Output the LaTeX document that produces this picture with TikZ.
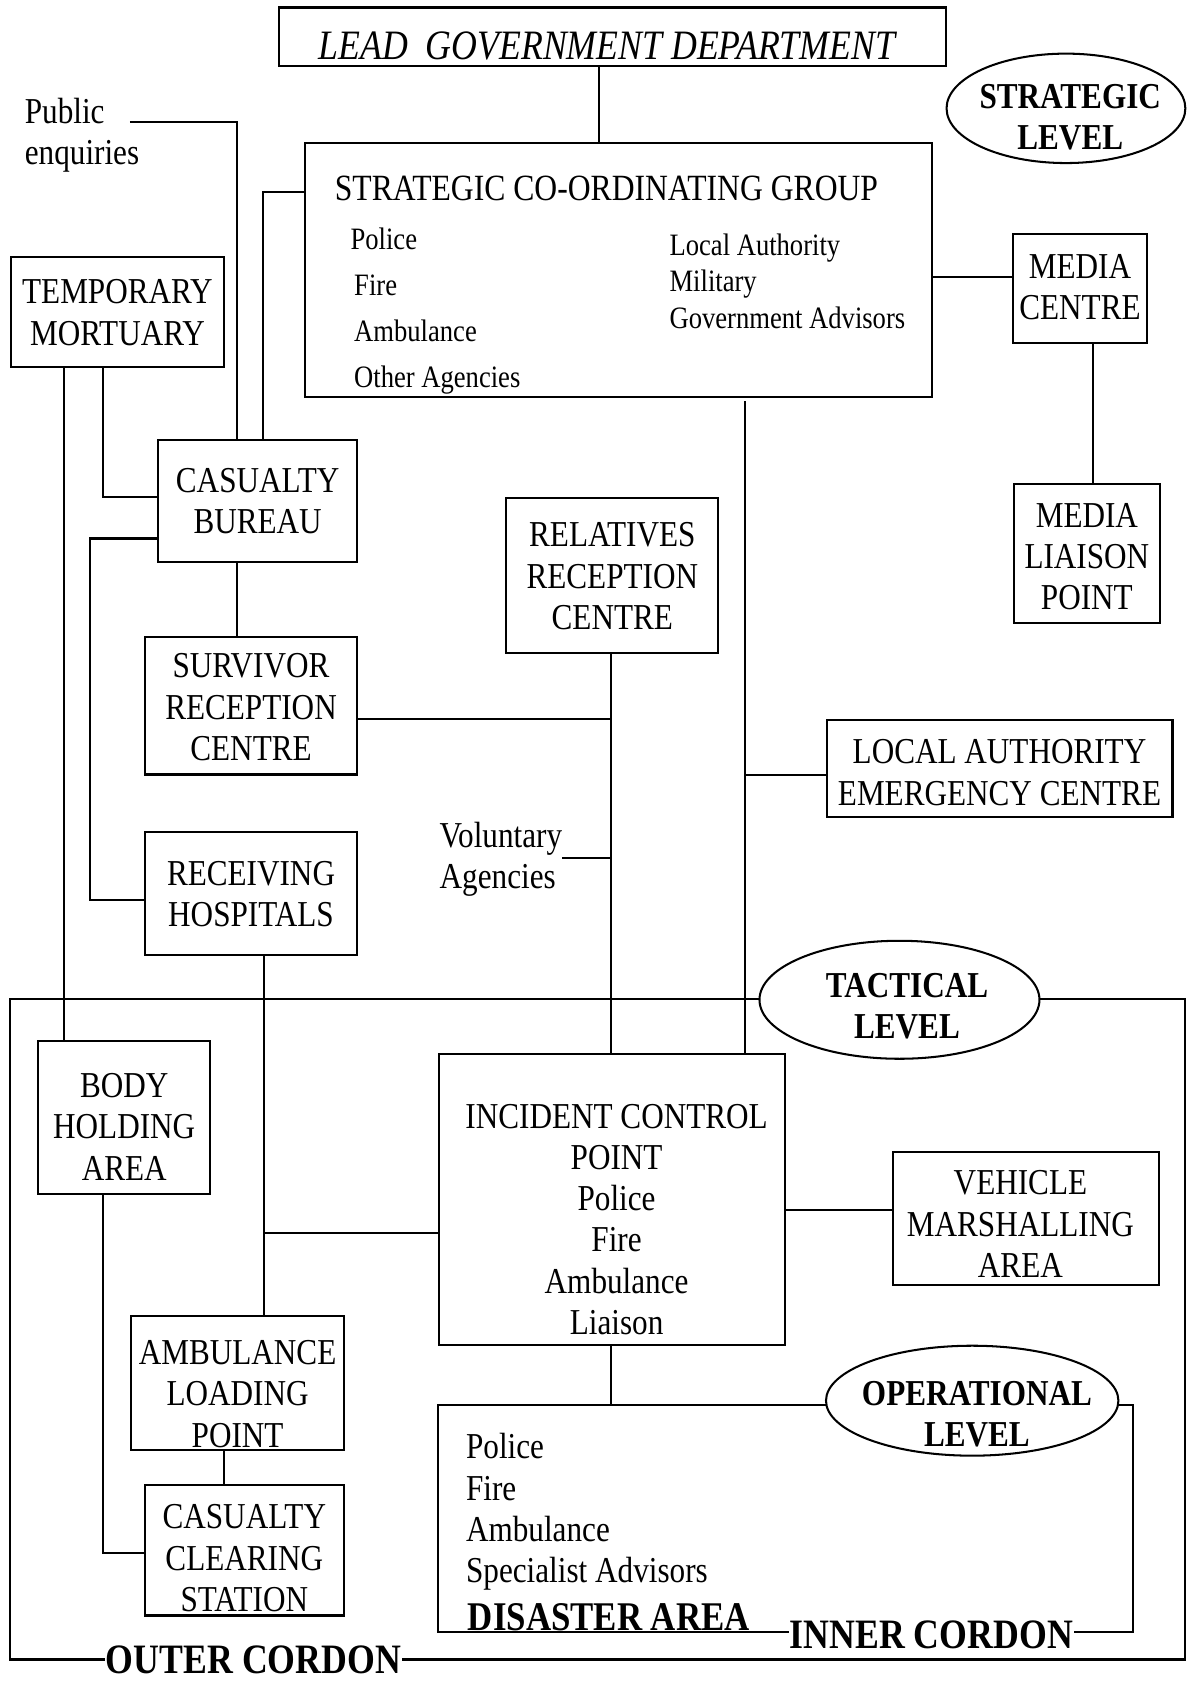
\documentclass[tikz,border=0pt]{standalone}
\usepackage{fontspec}
\setmainfont[FakeStretch=0.855]{Liberation Serif}
\usetikzlibrary{shapes.geometric}
\newcommand\fsMain{\fontsize{34pt}{38.5pt}\selectfont}
\newcommand\fsList{\fontsize{29pt}{34pt}\selectfont}
\newcommand\fsTitle{\fontsize{34.5pt}{38pt}\selectfont}
\newcommand\fsLead{\fontsize{39pt}{45pt}\selectfont\itshape}
\newcommand\fsLevel{\fontsize{34pt}{38.5pt}\selectfont\bfseries}
\newcommand\fsCordon{\fontsize{38pt}{44pt}\selectfont\bfseries}
\newcommand\fsCordonB{\fontsize{39pt}{44pt}\selectfont\bfseries}
\tikzset{
  bx/.style={draw, line width=1.9pt, inner sep=0pt},
  boxtxt/.style={align=center, font=\fsMain, inner sep=0pt},
  lvl/.style={draw, ellipse, fill=white, line width=1.9pt, inner sep=0pt},
  lvltxt/.style={align=center, font=\fsLevel, inner sep=0pt},
  plaintxt/.style={inner sep=0pt, font=\fsMain, anchor=base west},
  listtxt/.style={inner sep=0pt, font=\fsList, anchor=base west},
  cordon/.style={inner ysep=0pt, inner xsep=1pt, font=\fsCordon, anchor=base west},
  conn/.style={line width=1.9pt},
}
\begin{document}
\begin{tikzpicture}[x=1pt,y=-1pt]
\useasboundingbox (0,0) rectangle (1106,1568);

% ---------- boxes ----------
\node[bx, minimum width=621.5pt, minimum height=54.5pt,
  label={[boxtxt, font=\fsLead, xshift=-5pt, yshift=-8.75pt]center:LEAD\ \ GOVERNMENT DEPARTMENT}]
  (lgd) at (570.75,34.25) {};
\node[bx, minimum width=584.5pt, minimum height=236.3pt] (scg) at (576.75,251.85) {};
\node[bx, minimum width=124.4pt, minimum height=101.5pt,
  label={[boxtxt, yshift=1.5pt]center:MEDIA\\CENTRE}] (mc) at (1006.8,269.25) {};
\node[bx, minimum width=135.6pt, minimum height=128.9pt,
  label={[boxtxt, yshift=-3pt]center:MEDIA\\LIAISON\\POINT}] (mlp) at (1013.2,516.05) {};
\node[bx, minimum width=322.5pt, minimum height=89.9pt,
  label={[boxtxt, yshift=-3.8pt]center:LOCAL AUTHORITY\\EMERGENCY CENTRE}] (laec) at (931.75,716.45) {};
\node[bx, minimum width=199pt, minimum height=102pt,
  label={[boxtxt, yshift=-0.5pt]center:TEMPORARY\\MORTUARY}] (tm) at (109.5,291) {};
\node[bx, minimum width=185.6pt, minimum height=114pt,
  label={[boxtxt]center:CASUALTY\\BUREAU}] (cb) at (240.2,467) {};
\node[bx, minimum width=198pt, minimum height=128pt,
  label={[boxtxt, yshift=-1.4pt]center:SURVIVOR\\RECEPTION\\CENTRE}] (src) at (234,658) {};
\node[bx, minimum width=197.6pt, minimum height=145pt,
  label={[boxtxt, yshift=-0.8pt]center:RELATIVES\\RECEPTION\\CENTRE}] (rrc) at (570.8,536.5) {};
\node[bx, minimum width=198pt, minimum height=114.3pt,
  label={[boxtxt, yshift=-0.5pt]center:RECEIVING\\HOSPITALS}] (rh) at (234,832.85) {};
\node[bx, minimum width=160.4pt, minimum height=143pt,
  label={[boxtxt, yshift=-9pt]center:BODY\\HOLDING\\AREA}] (bha) at (115.8,1041.5) {};
\node[bx, minimum width=322.6pt, minimum height=271.1pt,
  label={[boxtxt, xshift=4.5pt, yshift=-18.7pt]center:INCIDENT CONTROL\\POINT\\Police\\Fire\\Ambulance\\Liaison}]
  (icp) at (570.3,1118.05) {};
\node[bx, minimum width=247.5pt, minimum height=124.5pt,
  label={[boxtxt, xshift=-5pt, yshift=-5.3pt]center:VEHICLE\\MARSHALLING\\AREA}] (vma) at (956.25,1135.75) {};
\node[bx, minimum width=198pt, minimum height=124.6pt,
  label={[boxtxt, yshift=-10.2pt]center:AMBULANCE\\LOADING\\POINT}] (alp) at (221.5,1289.3) {};
\node[bx, minimum width=185.5pt, minimum height=122pt,
  label={[boxtxt, yshift=-7.5pt]center:CASUALTY\\CLEARING\\STATION}] (ccs) at (227.75,1445) {};

% ---------- texts ----------
\node[inner sep=0pt, font=\fsTitle, anchor=base west] (scgtitle) at (312,186.5) {STRATEGIC CO-ORDINATING GROUP};
\node[listtxt] (scgleft) at (330,233) {\vtop{\baselineskip=42.7pt\hbox{\kern-3.4pt Police}\hbox{Fire}\hbox{Ambulance}\hbox{Other Agencies}}};
\node[listtxt] (scgright) at (624,237.8) {\vtop{\baselineskip=34.1pt\hbox{Local Authority}\hbox{Military}\hbox{Government Advisors}}};
\node[plaintxt] (pub) at (23,115) {\vtop{\hbox{Public}\hbox{enquiries}}};
\node[plaintxt] (vol) at (409.7,789.7) {\vtop{\hbox{Voluntary}\hbox{Agencies}}};
\node[plaintxt] (dislist) at (434.3,1360) {\vtop{\hbox{Police}\hbox{Fire}\hbox{Ambulance}\hbox{Specialist Advisors}}};

% ---------- cordons ----------
\coordinate (outerNW) at (9.6,931.6);
\coordinate (outerSE) at (1104.6,1547);
\coordinate (innerNW) at (408,1310);
\coordinate (innerSE) at (1056.5,1521);
\draw[conn] (outerNW) rectangle (outerSE);
\draw[conn] (innerNW) rectangle (innerSE);

% ---------- connectors ----------
\coordinate (pubEnd) at (121,113.5);
\draw[conn] (558,0 |- lgd.south) -- (558,0 |- scg.north);
\draw[conn] (pubEnd) -| (221,0 |- cb.north);
\draw[conn] (scg.west |- 0,178.8) -| (245.5,0 |- cb.north);
\draw[conn] (59.6,0 |- tm.south) -- (59.6,0 |- bha.north);
\draw[conn] (96,0 |- tm.south) |- (cb.west |- 0,463);
\draw[conn] (cb.west |- 0,502) -- (84,502) -- (84,839) -- (rh.west |- 0,839);
\draw[conn] (221,0 |- cb.south) -- (221,0 |- src.north);
\draw[conn] (src.east |- 0,670.5) -- (570,670.5);
\draw[conn] (570,0 |- rrc.south) -- (570,0 |- icp.north);
\draw[conn] (vol.east |- 0,800) -- (570,800);
\draw[conn] ([yshift=-3pt]694.5,0 |- scg.south) -- (694.5,0 |- icp.north);
\draw[conn] (694.5,722.4) -- (laec.west |- 0,722.4);
\draw[conn] (scg.east |- 0,258) -- (mc.west |- 0,258);
\draw[conn] (1019,0 |- mc.south) -- (1019,0 |- mlp.north);
\draw[conn] (246,0 |- rh.south) -- (246,0 |- alp.north);
\draw[conn] (246,1149) -- (icp.west |- 0,1149);
\draw[conn] (icp.east |- 0,1128.4) -- (vma.west |- 0,1128.4);
\draw[conn] (96,0 |- bha.south) |- (ccs.west |- 0,1448);
\draw[conn] (209,0 |- alp.south) -- (209,0 |- ccs.north);
\draw[conn] (570,0 |- icp.south) -- (570,0 |- innerNW);

% ---------- level ellipses ----------
\node[lvl, minimum width=222.6pt, minimum height=102pt,
  label={[lvltxt, xshift=4pt, yshift=-8.5pt]center:STRATEGIC\\LEVEL}] (strat) at (993.7,101) {};
\node[lvl, minimum width=261pt, minimum height=110pt,
  label={[lvltxt, xshift=7pt, yshift=-6pt]center:TACTICAL\\LEVEL}] (tact) at (838.5,932) {};
\node[lvl, minimum width=272.6pt, minimum height=102.5pt,
  label={[lvltxt, xshift=4.4pt, yshift=-12.5pt]center:OPERATIONAL\\LEVEL}] (oper) at (906.3,1305.75) {};

% ---------- cordon labels ----------
\node[cordon] (disarea) at (435,1520) {DISASTER AREA};
\node[cordon, font=\fsCordonB, fill=white] (innerlbl) at (735,1537) {INNER CORDON};
\node[cordon, font=\fsCordonB, fill=white] (outerlbl) at (97.5,1560) {OUTER CORDON};
\end{tikzpicture}
\end{document}
